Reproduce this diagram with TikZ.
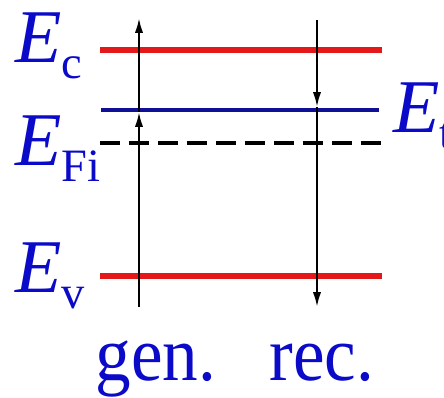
\documentclass[tikz,border=0pt]{standalone}
\usepackage{fontspec}
\setmainfont{Liberation Serif}
\usepackage{tikz}
\usetikzlibrary{arrows.meta,positioning}
\definecolor{bandRed}{RGB}{228,24,24}
\definecolor{trapBlue}{RGB}{16,16,150}
\definecolor{labelBlue}{RGB}{10,10,200}
\newcommand{\elev}[1]{\textit{E}\raisebox{-11.4pt}{\fontsize{33}{33}\selectfont #1}}

\begin{document}
\begin{tikzpicture}[x=0.025cm, y=0.025cm,
  lbl/.style={text=labelBlue, inner sep=0pt, anchor=base west, font=\fontsize{54}{60}\selectfont},
  proc/.style={lbl, anchor=base, font=\fontsize{55}{60}\selectfont, xscale=0.92, transform shape},
  trans/.style={black, line width=1.5pt, -{Latex[length=10.5pt,width=5.8pt]}}]
\useasboundingbox (0,0) rectangle (444,397);
\clip (0,0) rectangle (444,397);
% band edges and levels
\coordinate (ecL) at (100,347); \coordinate (ecR) at (382,347);
\coordinate (etL) at (101,287); \coordinate (etR) at (379,287);
\coordinate (efL) at (100,254); \coordinate (efR) at (382,254);
\coordinate (evL) at (100,121); \coordinate (evR) at (382,121);
\draw[bandRed, line width=3.6pt] (ecL) -- (ecR);
\draw[bandRed, line width=3.6pt] (evL) -- (evR);
\draw[trapBlue, line width=3.2pt] (etL) -- (etR);
\draw[black, line width=3.4pt, dash pattern=on 14.2pt off 6.4pt] (efL) -- (efR);
% generation and recombination
\coordinate (genB) at (139,90); \coordinate (genM) at (139,285); \coordinate (genT) at (139,379);
\coordinate (recT) at (317,377); \coordinate (recM) at (317,290); \coordinate (recB) at (317,90);
\draw[trans] (genB) -- (genM);
\draw[trans] (genM) -- (genT);
\draw[trans] (recT) -- (recM);
\draw[trans] (recM) -- (recB);
% labels
\node[lbl] (ec) at (15,335) {\elev{c}};
\node[lbl] (efi) at (15,232) {\elev{Fi}};
\node[lbl] (ev) at (15,105) {\elev{v}};
\node[lbl] (et) at (393,265) {\elev{t}};
\node[proc] (gen) at (156,16.5) {gen.};
\node[proc] (rec) at (322,16.5) {rec.};
\end{tikzpicture}
\end{document}
